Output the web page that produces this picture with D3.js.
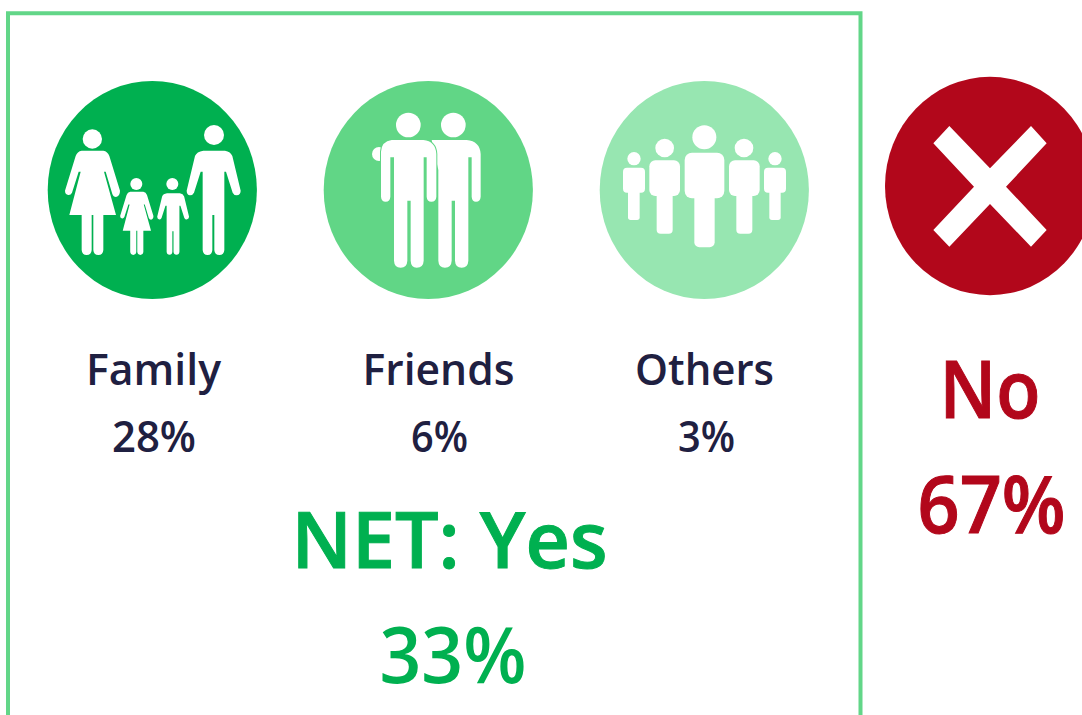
<!DOCTYPE html>
<html><head><meta charset="utf-8">
<style>html,body{margin:0;padding:0;background:#fff;overflow:hidden}svg{display:block}</style>
<script src="https://cdn.jsdelivr.net/npm/d3@7"></script></head><body>
<script>
// data
const categories = ["Family", "Friends", "Others"];
const shares = [28, 6, 3];
const netLabel = "NET: Yes";
const netValue = 33;
const noLabel = "No";
const noValue = 67;
const colours = ["#00b050", "#61d686", "#97e6b1"];
const noColour = "#b2071b";
const textColour = "#1f2041";

const W = 1082, H = 715;
const svg = d3.select("body").append("svg").attr("width", W).attr("height", H);
const FONT = "'Open Sans', sans-serif";

// frame
svg.append("path").attr("d", "M8 725V13.3H860.5V725").attr("fill", "none").attr("stroke", "#62d688").attr("stroke-width", 4);

// layout
const iconX = d3.scalePoint().domain(categories).range([152.3, 704.3]);
const labelX = {Family: 153.5, Friends: 438.5, Others: 704.5};
const labelW = {Family: 135, Friends: 152, Others: 139};
const valueX = {Family: 154, Friends: 439.5, Others: 706.5};
const valueW = {Family: 84, Friends: 57, Others: 57};

function text(t, x, y, size, fill, weight, width, sw) {
  return svg.append("text").text(t).attr("x", x).attr("y", y).attr("text-anchor", "middle")
    .attr("font-family", FONT).attr("font-size", size).attr("fill", fill)
    .attr("font-weight", weight || 400)
    .attr("stroke", sw ? fill : "none").attr("stroke-width", sw || 0)
    .attr("textLength", width).attr("lengthAdjust", "spacingAndGlyphs");
}

// circles
svg.selectAll("ellipse.icon").data(categories).join("ellipse").attr("class", "icon")
  .attr("cx", d => iconX(d)).attr("cy", 190).attr("rx", 104.6).attr("ry", 109)
  .attr("fill", (d, i) => colours[i]);
svg.append("ellipse").attr("cx", 990).attr("cy", 186).attr("rx", 105).attr("ry", 109.2).attr("fill", noColour);

// glyphs drawn in 3x coordinates
function glyph(ox, oy) {
  return svg.append("g").attr("transform", `translate(${ox},${oy}) scale(${1/3})`).attr("fill", "#fff");
}
const WOMAN = "M125 242L190 242Q203 244 208 258L240 362Q240 378 228 381Q220 381 217 372L197 305L192 305L228 435L190 435L190 540Q189 555 175 555Q161 555 160 540L160 435L155 435L155 540Q154 555 140 555Q126 555 125 540L125 435L88 435L122 305L116 305L96 368Q92 376 85 375Q75 373 75 362L107 258Q112 244 125 242Z";
const MAN = "M490 242L555 242Q572 245 577 258L602 362Q602 374 590 376Q582 376 578 368L558 305L553 305L553 540Q552 555 538 555Q524 555 523 540L523 435L517 435L517 540Q516 555 503 555Q489 555 488 540L488 305L482 305L462 368Q458 376 450 376Q440 374 440 362L465 258Q470 245 490 242Z";

const fam = glyph(40, 70);
fam.append("circle").attr("cx", 157).attr("cy", 207).attr("r", 29);
fam.append("path").attr("d", WOMAN);
fam.append("circle").attr("cx", 522).attr("cy", 195).attr("r", 30);
fam.append("path").attr("d", MAN);
fam.append("circle").attr("cx", 289).attr("cy", 342).attr("r", 18);
fam.append("path").attr("d", WOMAN).attr("transform", "translate(194.9,218.3) scale(.606)");
fam.append("circle").attr("cx", 397).attr("cy", 342).attr("r", 18);
fam.append("path").attr("d", MAN).attr("transform", "translate(92,227) scale(.59)");

const fr = glyph(315, 70);
fr.append("circle").attr("cx", 192).attr("cy", 252).attr("r", 21);
fr.append("circle").attr("cx", 280).attr("cy", 165).attr("r", 37);
fr.append("circle").attr("cx", 415).attr("cy", 165).attr("r", 37);
fr.append("path").attr("d", "M350 210L455 210Q495 214 497 252L497 380Q496 395 483 395Q471 395 470 380L470 262L460 262L460 572Q459 593 440 593Q421 593 420 572L420 392L410 392L410 572Q409 593 390 593Q371 593 370 572L370 300Z");
fr.append("path").attr("d", "M230 210L325 210Q362 214 364 252L364 380Q363 395 349 395Q336 395 335 380L335 262L326 262L326 572Q325 593 305 593Q288 593 287 572L287 392L277 392L277 572Q276 593 257 593Q238 593 237 572L237 262L226 262L226 380Q225 395 212 395Q199 395 198 380L198 245Q200 214 230 210Z")
  .attr("stroke", colours[1]).attr("stroke-width", 6).attr("paint-order", "stroke");

const ot = glyph(590, 70);
const figures = [
  [132, 266, 20, 99, 165, 293, 368, 12, 114, 149, 450, 8],
  [555, 266, 20, 522, 588, 293, 368, 12, 538, 572, 450, 8],
  [224, 234, 28, 178, 270, 271, 378, 18, 200, 248, 491, 12],
  [462, 234, 28, 417, 509, 271, 378, 18, 439, 487, 491, 12],
  [343, 202, 36, 284, 403, 248, 385, 22, 313, 374, 532, 15]
];
figures.forEach(([hx, hy, hr, bl, br, bt, bb, brx, ll, lr, lb, lrx]) => {
  ot.append("circle").attr("cx", hx).attr("cy", hy).attr("r", hr);
  ot.append("rect").attr("x", bl).attr("y", bt).attr("width", br - bl).attr("height", bb - bt).attr("rx", brx);
  ot.append("rect").attr("x", ll).attr("y", bb - 20).attr("width", lr - ll).attr("height", lb - bb + 20).attr("rx", lrx);
});

glyph(870, 60).append("path").attr("d", "M238 198L360 325L483 198L530 250L408 380L530 510L483 560L360 432L238 560L190 510L312 380L190 250Z");

// labels
categories.forEach((c, i) => {
  text(c, labelX[c], 385, 44, textColour, 600, labelW[c]);
  text(shares[i] + "%", valueX[c], 451.5, 44, textColour, 600, valueW[c]);
});
text(netLabel, 449.5, 568, 78, colours[0], 600, 316, 1);
text(netValue + "%", 453, 683, 78, colours[0], 600, 147);
text(noLabel, 990, 418, 79, noColour, 600, 101, 1);
text(noValue + "%", 991.5, 533, 79, noColour, 600, 148, 1);
</script></body></html>
